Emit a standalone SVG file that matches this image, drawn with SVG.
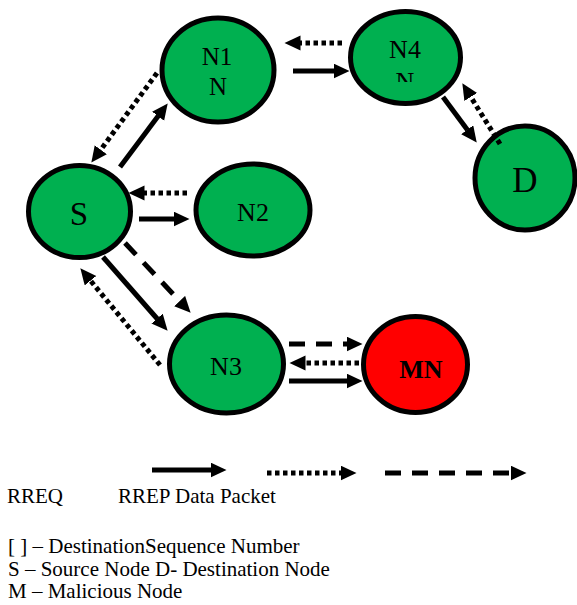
<svg xmlns="http://www.w3.org/2000/svg" width="577" height="605" viewBox="0 0 577 605">
<style>
.node{stroke:#000;stroke-width:5}
.g{fill:#00B050}
.r{fill:#FF0000}
.lbl{fill:#000;text-anchor:middle}
.txt{fill:#000;font-size:21px}
.c{fill:none;stroke:#000;stroke-width:5}
.solid{marker-end:url(#ah)}
.dot{stroke-dasharray:4.5 3.5;marker-end:url(#ah)}
.dash{stroke-dasharray:16 11;marker-end:url(#ah)}
</style>
<defs>
<marker id="ah" markerUnits="userSpaceOnUse" markerWidth="17" markerHeight="16" refX="0.5" refY="7.5" orient="auto">
<path d="M0,0 L16,7.5 L0,15 z" fill="#000"/>
</marker>
<clipPath id="n4clip"><rect x="350" y="0" width="110" height="82"/></clipPath>
</defs>
<rect width="577" height="605" fill="#fff"/>
<g font-family="'Liberation Serif', 'Times New Roman', serif">
<g id="N1"><ellipse class="node g" cx="218" cy="70" rx="56" ry="52"/><text class="lbl" x="217" y="65" font-size="25">N1</text><text class="lbl" x="218" y="95" font-size="25">N</text></g>
<g id="N4"><ellipse class="node g" cx="405.5" cy="57.5" rx="55" ry="46"/><text class="lbl" x="405" y="58" font-size="26">N4</text><text class="lbl" x="405" y="90" font-size="26" clip-path="url(#n4clip)">N</text></g>
<g id="D"><ellipse class="node g" cx="525" cy="178" rx="50" ry="52"/><text class="lbl" x="525" y="192" font-size="35">D</text></g>
<g id="S"><ellipse class="node g" cx="79.5" cy="211.5" rx="51" ry="46"/><text class="lbl" x="79" y="225" font-size="33">S</text></g>
<g id="N2"><ellipse class="node g" cx="253" cy="210" rx="57" ry="46"/><text class="lbl" x="253" y="221" font-size="26">N2</text></g>
<g id="N3"><ellipse class="node g" cx="226.5" cy="364" rx="57" ry="49"/><text class="lbl" x="226" y="375" font-size="26">N3</text></g>
<g id="MN"><ellipse class="node r" cx="415.5" cy="364.5" rx="52" ry="48"/><text class="lbl" x="421" y="378" font-size="26" font-weight="bold">MN</text></g>
<g id="legend">
<text class="txt" x="7" y="503">RREQ</text>
<text class="txt" x="118" y="503">RREP Data Packet</text>
<text class="txt" x="8" y="553">[ ] – DestinationSequence Number</text>
<text class="txt" x="8" y="576">S – Source Node D- Destination Node</text>
<text class="txt" x="8" y="598">M – Malicious Node</text>
</g>
</g>
<g id="connectors">
<line class="c solid" x1="293" y1="71" x2="334" y2="71"/>
<line class="c dot" x1="342" y1="43" x2="300" y2="43"/>
<line class="c solid" x1="443" y1="97" x2="467.5" y2="130.1"/>
<line class="c dot" x1="500" y1="144" x2="470.5" y2="96.5"/>
<line class="c dot" x1="157" y1="73" x2="100.5" y2="150.1"/>
<line class="c solid" x1="120" y1="167" x2="158.4" y2="115.8"/>
<line class="c dot" x1="187" y1="193" x2="144" y2="193"/>
<line class="c solid" x1="139" y1="219" x2="174" y2="219"/>
<line class="c solid" x1="103" y1="257" x2="157.4" y2="319"/>
<line class="c dash" x1="125" y1="243" x2="180" y2="301.4"/>
<line class="c dot" x1="160" y1="365" x2="90.2" y2="280.3"/>
<line class="c dash" x1="289" y1="344" x2="347" y2="344"/>
<line class="c dot" x1="359" y1="363" x2="305" y2="363"/>
<line class="c solid" x1="289" y1="381" x2="347" y2="381"/>
<line class="c solid" x1="152" y1="470" x2="211" y2="470"/>
<line class="c dot" x1="267" y1="473" x2="341" y2="473"/>
<line class="c dash" x1="385" y1="473" x2="511" y2="473"/>
</g>
</svg>
